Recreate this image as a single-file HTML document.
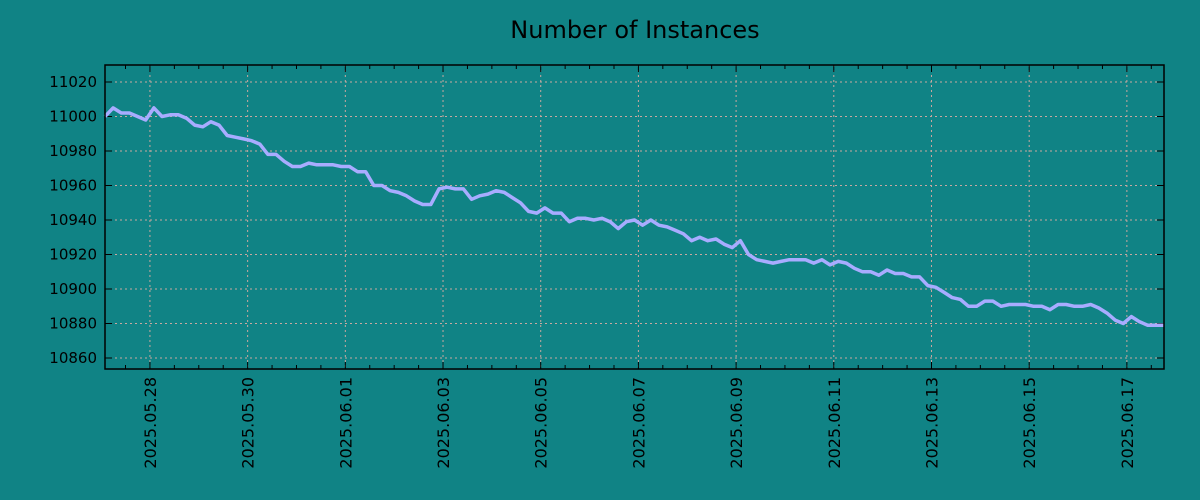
<!DOCTYPE html>
<html><head><meta charset="utf-8"><style>
body{margin:0;background:#108385;}
svg{display:block;font-family:"DejaVu Sans","Liberation Sans",sans-serif;}
</style></head><body>
<svg id="chart" width="1200" height="500">
<rect width="1200" height="500" fill="#108385"/>
<text x="635" y="38" font-size="24" text-anchor="middle" fill="#000">Number of Instances</text>
<g id="grid"></g><g id="ticks"></g><g id="series"></g>
<rect x="105" y="65" width="1059" height="304" fill="none" stroke="#000" stroke-width="1.5"/>
</svg>
<script>
const values = [11000,11005,11002,11002,11000,10998,11005,11000,11001,11001,10999,10995,10994,10997,10995,10989,10988,10987,10986,10984,10978,10978,10974,10971,10971,10973,10972,10972,10972,10971,10971,10968,10968,10960,10960,10957,10956,10954,10951,10949,10949,10958,10959,10958,10958,10952,10954,10955,10957,10956,10953,10950,10945,10944,10947,10944,10944,10939,10941,10941,10940,10941,10939,10935,10939,10940,10937,10940,10937,10936,10934,10932,10928,10930,10928,10929,10926,10924,10928,10920,10917,10916,10915,10916,10917,10917,10917,10915,10917,10914,10916,10915,10912,10910,10910,10908,10911,10909,10909,10907,10907,10902,10901,10898,10895,10894,10890,10890,10893,10893,10890,10891,10891,10891,10890,10890,10888,10891,10891,10890,10890,10891,10889,10886,10882,10880,10884,10881,10879,10879,10879];
const startDay = -0.92;
const endDay = 20.76;
const yTicks = [10860,10880,10900,10920,10940,10960,10980,11000,11020];
const xTickDays = [0,2,4,6,8,10,12,14,16,18,20];
const xTickLabels = ["2025.05.28","2025.05.30","2025.06.01","2025.06.03","2025.06.05","2025.06.07","2025.06.09","2025.06.11","2025.06.13","2025.06.15","2025.06.17"];

const NS="http://www.w3.org/2000/svg";
const L=105,R=1164,T=65,B=369;
const xs=d=>L+(d-startDay)/(endDay-startDay)*(R-L);
const ys=v=>82+(11020-v)*(358-82)/160;
function mk(tag,attrs,parent){const e=document.createElementNS(NS,tag);for(const k in attrs)e.setAttribute(k,attrs[k]);parent.appendChild(e);return e;}
const grid=document.getElementById('grid'),ticks=document.getElementById('ticks'),series=document.getElementById('series');
yTicks.forEach(v=>{
  const y=ys(v);
  const g=mk('line',{x1:L,x2:R,y1:y,y2:y,stroke:'#c8a8a0','stroke-dasharray':'2,3','stroke-width':1},grid);
  
  
  mk('line',{x1:L,x2:L+7,y1:y,y2:y,stroke:'#000'},ticks);
  mk('line',{x1:R,x2:R-7,y1:y,y2:y,stroke:'#000'},ticks);
  const t=mk('text',{x:L-8,y:y+5,'font-size':15,'text-anchor':'end',fill:'#000'},ticks);
  t.textContent=v;
  
  
});
for(let d=-0.5;d<=endDay;d+=0.5){
  const x=xs(d);
  const major=Math.abs(d/2-Math.round(d/2))<1e-6;
  const len=major?7:4;
  mk('line',{x1:x,x2:x,y1:B,y2:B-len,stroke:'#000'},ticks);
  mk('line',{x1:x,x2:x,y1:T,y2:T+len,stroke:'#000'},ticks);
}
xTickDays.forEach((d,i)=>{
  const x=xs(d);
  const g=mk('line',{x1:x,x2:x,y1:T,y2:B,stroke:'#c8a8a0','stroke-dasharray':'2,3','stroke-width':1},grid);
  
  
  const t=mk('text',{x:0,y:0,'font-size':16,'text-anchor':'end',fill:'#000',transform:`translate(${x+6},377) rotate(-90)`},ticks);
  t.textContent=xTickLabels[i];
  
  
});
const step=(endDay-startDay)/(values.length-1);
const pts=values.map((v,i)=>xs(startDay+i*step).toFixed(1)+','+ys(v).toFixed(1)).join(' ');
const line=mk('polyline',{points:pts,fill:'none',stroke:'#a8acff','stroke-width':3.5,'stroke-linejoin':'round'},series);


</script>
</body></html>
